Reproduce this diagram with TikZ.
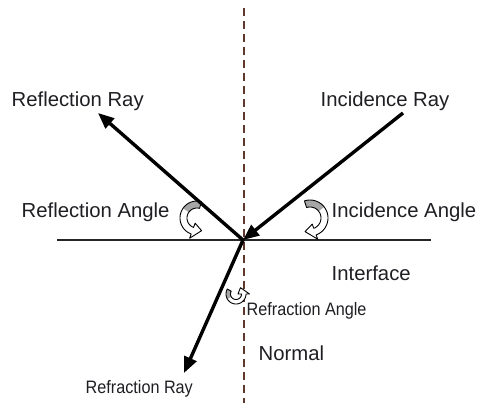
\documentclass[tikz,border=0pt]{standalone}
\usepackage{fontspec}
\setmainfont{Liberation Sans}
\newfontfamily\narrowfont[FakeStretch=0.9]{Liberation Sans}
\usetikzlibrary{arrows.meta}
\definecolor{normalc}{RGB}{95,55,45}
\definecolor{txt}{RGB}{30,30,35}
\tikzset{
  ray/.style={line width=3.4pt, -{Triangle[length=16pt,width=13pt]}},
  lbl/.style={anchor=base west, inner sep=0pt, text=txt, font=\fontsize{20.3}{24}\selectfont},
  smalllbl/.style={anchor=base west, inner sep=0pt, text=txt, font=\narrowfont\fontsize{18}{22}\selectfont},
  bandline/.style={draw=black, line width=0.9pt, line join=round},
}
% #1 cx #2 cy #3 start angle #4 end angle #5 outer r #6 inner r #7 tip delta #8 gray end #9 head overhang
\newcommand\bandpath[9]{plot[domain=#3:#4,samples=30] ({#1+#5*cos(\x)},{#2+#5*sin(\x)})
  -- ({#1+(#5+#9)*cos(#4)},{#2+(#5+#9)*sin(#4)})
  -- ({#1+(#5+#6)/2*cos((#4)+(#7))},{#2+(#5+#6)/2*sin((#4)+(#7))})
  -- ({#1+(#6-#9)*cos(#4)},{#2+(#6-#9)*sin(#4)})
  -- ({#1+#6*cos(#4)},{#2+#6*sin(#4)})
  -- plot[domain=#4:#3,samples=30] ({#1+#6*cos(\x)},{#2+#6*sin(\x)}) -- cycle}
\newcommand\graypath[6]{plot[domain=#3:#4,samples=20] ({#1+#5*cos(\x)},{#2+#5*sin(\x)})
  -- plot[domain=#4:#3,samples=20] ({#1+#6*cos(\x)},{#2+#6*sin(\x)}) -- cycle}
\newcommand\curlyarrow[9]{%
  \fill[white] \bandpath{#1}{#2}{#3}{#4}{#5}{#6}{#7}{#8}{#9};
  \fill[black!35] \graypath{#1}{#2}{#3}{#8}{#5}{#6};
  \path[bandline] \bandpath{#1}{#2}{#3}{#4}{#5}{#6}{#7}{#8}{#9};
}
\begin{document}
\begin{tikzpicture}[x=1pt,y=-1pt]
\useasboundingbox (0,0) rectangle (479,403);
\coordinate (O) at (243,240);
\coordinate (nt) at (244,8);
\coordinate (nb) at (244,403);
\coordinate (il) at (57,240);
\coordinate (ir) at (431,240);
\coordinate (is) at (403,113);
\coordinate (re) at (98,113);
\coordinate (fe) at (184,373);

\draw[normalc, line width=1.8pt, dash pattern=on 8pt off 5pt] (nt) -- (nb);
\draw[line width=1.2pt, black!85] (il) -- (ir);

\curlyarrow{197}{218}{285}{110}{17}{10}{-40}{215}{4.5}
\curlyarrow{310}{218}{252}{430}{18}{11}{40}{322}{4.5}
\curlyarrow{236}{294}{210}{0}{10}{5.5}{-55}{150}{3.5}

\draw[ray] (is) -- (O);
\draw[ray] (O) -- (re);
\draw[ray] (O) -- (fe);

\node[lbl] (lrr) at (11.5,107) {Reflection Ray};
\node[lbl] (lir) at (320.5,107) {Incidence Ray};
\node[lbl] (lra) at (21.5,218) {Reflection Angle};
\node[lbl] (lia) at (331.5,218) {Incidence Angle};
\node[lbl] (lif) at (331.5,280) {Interface};
\node[smalllbl] (lfa) at (246.5,315) {Refraction Angle};
\node[lbl] (lno) at (258.5,360) {Normal};
\node[smalllbl] (lfr) at (85.5,393) {Refraction Ray};
\end{tikzpicture}
\end{document}
